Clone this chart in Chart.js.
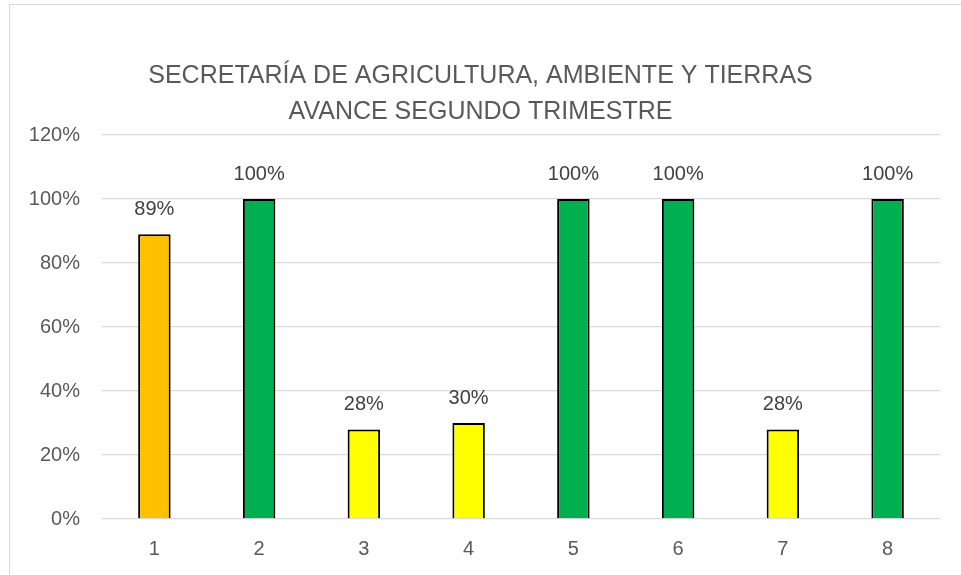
<!DOCTYPE html>
<html>
<head>
<meta charset="utf-8">
<script src="https://cdn.jsdelivr.net/npm/chart.js@4.4.1/dist/chart.umd.min.js"></script>
<style>
  html, body { margin: 0; padding: 0; background: #fff; }
  #wrap { position: relative; width: 961px; height: 575px; }
  #frame { position: absolute; left: 9px; top: 4px; width: 960px; height: 600px;
           border-left: 1px solid #d9d9d9; border-top: 1px solid #d9d9d9; }
  canvas { position: absolute; left: 0; top: 0; }
</style>
</head>
<body>
<div id="wrap">
  <div id="frame"></div>
  <canvas id="chart" width="961" height="575"></canvas>
</div>
<script>
// Chart data
const categories = ['1', '2', '3', '4', '5', '6', '7', '8'];
const avance = [0.89, 1.00, 0.28, 0.30, 1.00, 1.00, 0.28, 1.00];
const barColors = ['#FFC000', '#00B050', '#FFFF00', '#FFFF00', '#00B050', '#00B050', '#FFFF00', '#00B050'];
const titleLines = ['SECRETARÍA DE AGRICULTURA, AMBIENTE Y TIERRAS', 'AVANCE SEGUNDO TRIMESTRE'];

const FONT = '"Liberation Sans", Arial, sans-serif';

// Title centred on the whole picture, not on the plot
const titleBlock = {
    id: 'titleBlock',
    afterDraw(chart) {
        const ctx = chart.ctx;
        ctx.save();
        ctx.font = '25px ' + FONT;
        ctx.fillStyle = '#595959';
        ctx.textAlign = 'center';
        ctx.textBaseline = 'middle';
        titleLines.forEach((line, i) => {
            ctx.fillText(line, chart.width / 2, 76 + i * 36);
        });
        ctx.restore();
    }
};

// Simple value labels above each bar
const valueLabels = {
    id: 'valueLabels',
    afterDatasetsDraw(chart) {
        const ctx = chart.ctx;
        const meta = chart.getDatasetMeta(0);
        ctx.save();
        ctx.font = '20px ' + FONT;
        ctx.fillStyle = '#404040';
        ctx.textAlign = 'center';
        ctx.textBaseline = 'middle';
        meta.data.forEach((bar, i) => {
            const txt = Math.round(avance[i] * 100) + '%';
            ctx.fillText(txt, bar.x, bar.y - 25);
        });
        ctx.restore();
    }
};

const ctx = document.getElementById('chart').getContext('2d');
const chart = new Chart(ctx, {
    type: 'bar',
    data: {
        labels: categories,
        datasets: [{
            data: avance,
            backgroundColor: barColors,
            borderColor: '#000000',
            borderWidth: 2,
            barPercentage: 0.62,
            categoryPercentage: 0.5
        }]
    },
    options: {
        responsive: false,
        animation: false,
        layout: { padding: { left: 0, right: 21, top: 135, bottom: 0 } },
        plugins: {
            legend: { display: false },
            tooltip: { enabled: false },
            title: { display: false }
        },
        scales: {
            x: {
                grid: { display: false },
                border: { display: false },
                ticks: { color: '#595959', font: { family: FONT, size: 20 }, padding: 10 },
                afterFit: (s) => { s.height = 56; }
            },
            y: {
                min: 0,
                max: 1.2,
                grid: { color: '#d9d9d9', lineWidth: 1.3, drawTicks: false },
                border: { display: false },
                ticks: {
                    stepSize: 0.2,
                    padding: 22,
                    color: '#595959',
                    font: { family: FONT, size: 20 },
                    callback: (v) => Math.round(v * 100) + '%'
                },
                afterFit: (s) => { s.width = 102; }
            }
        }
    },
    plugins: [valueLabels, titleBlock]
});
</script>
</body>
</html>
